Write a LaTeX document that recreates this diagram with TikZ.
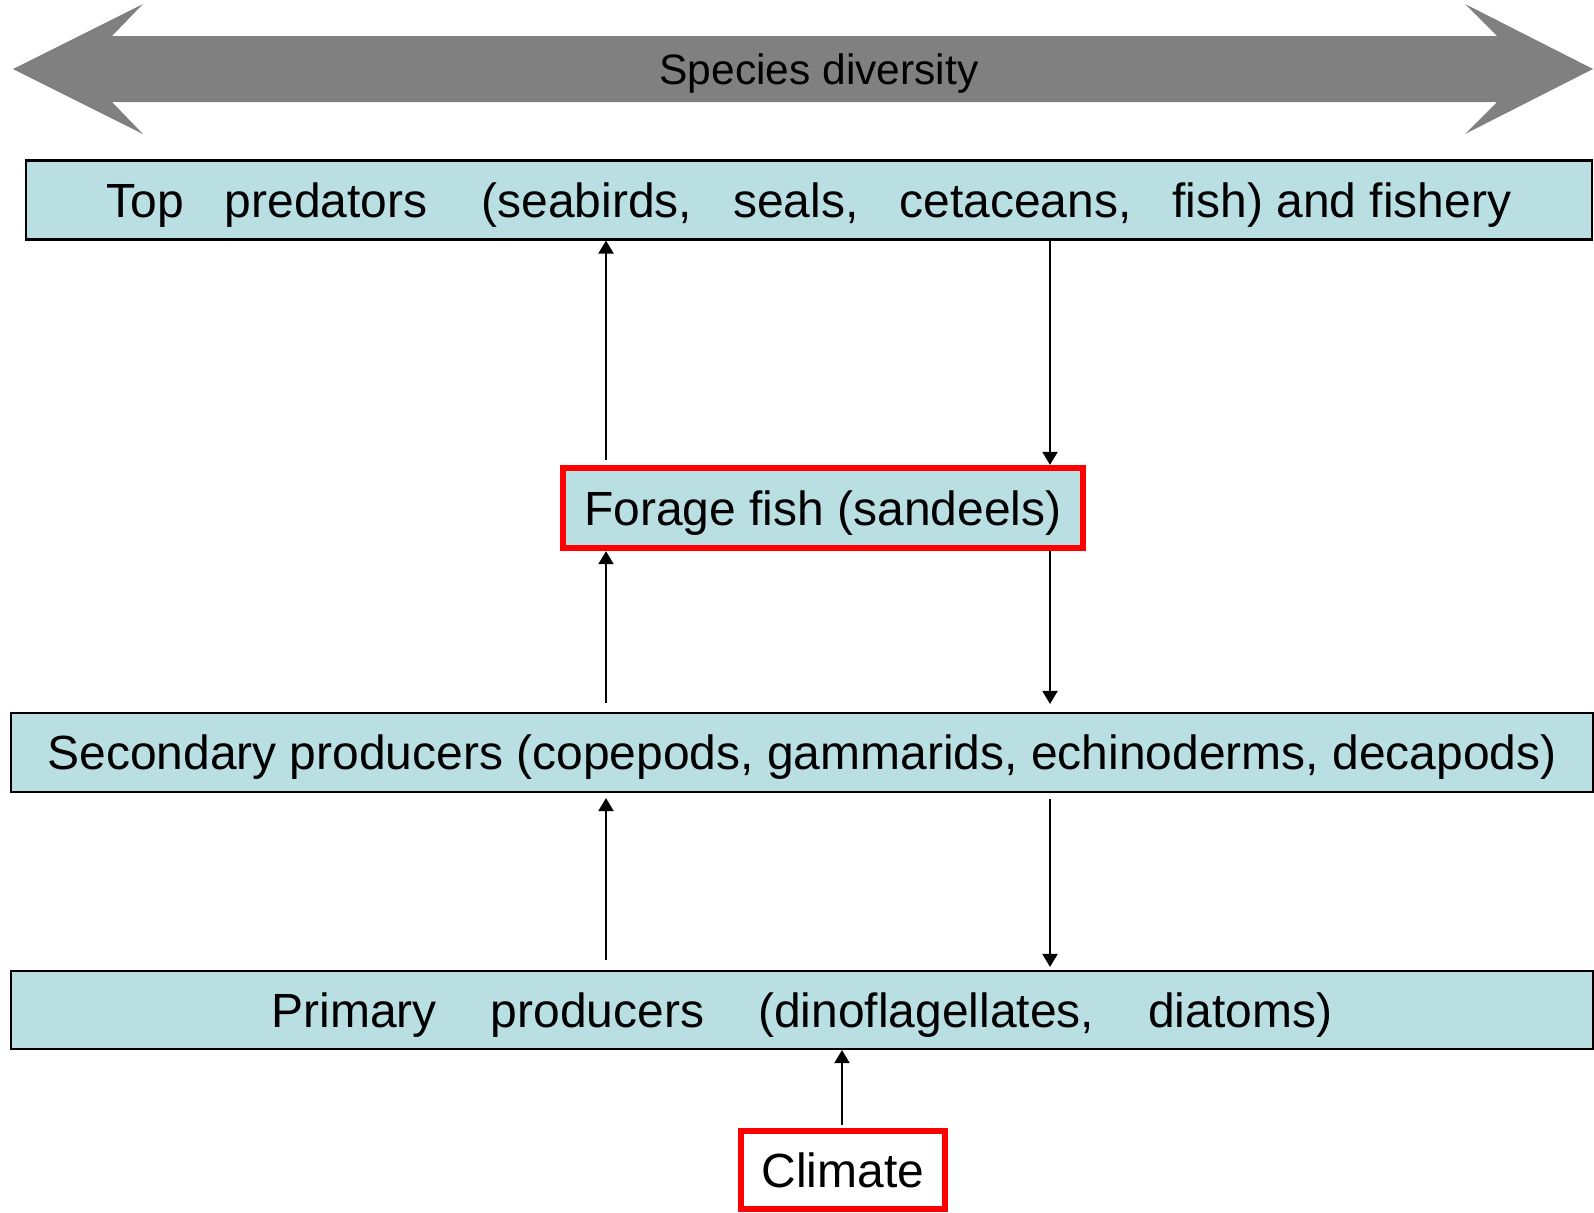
\documentclass[tikz,border=0pt]{standalone}
\usepackage{fontspec}
\setmainfont{Liberation Sans}
\usetikzlibrary{arrows.meta}
\definecolor{boxfill}{RGB}{185,223,227}
\definecolor{bandgray}{RGB}{128,128,128}
\tikzset{
  level/.style = {draw = black, fill = boxfill, line width = 0.6pt, inner sep = 0pt,
    text height = 0.44cm, text depth = 0.10cm,
    font = \fontsize{13.65}{16}\selectfont},
  key/.style = {level, draw = red, line width = 1.8pt},
  link/.style = {line width = 0.6pt, -{Triangle[width = 0.15cm, length = 0.13cm]}},
}
\newcommand{\wsp}{\hspace{0.41cm}}
\newcommand{\wwsp}{\hspace{0.54cm}}
\begin{document}
\begin{tikzpicture}
  \useasboundingbox (0, 0) rectangle (15.94, -12.12);
  % diversity band
  \fill[bandgray] (0.13, -0.69) -- (1.43, -0.04) -- (1.12, -0.36) -- (14.97, -0.36)
    -- (14.65, -0.04) -- (15.93, -0.69) -- (14.65, -1.34) -- (14.97, -1.02)
    -- (1.12, -1.02) -- (1.43, -1.34) -- cycle;
  \node[inner sep = 0pt, text height = 0.38cm, text depth = 0.08cm] (div) at (8.19, -0.69)
    {\fontsize{12.1}{14}\selectfont Species diversity};
  % trophic levels
  \node[level, minimum width = 15.66cm, minimum height = 0.79cm] (top) at (8.09, -2.00)
    {Top\wsp predators\wwsp(seabirds,\wsp seals,\wsp cetaceans,\wsp fish) and fishery};
  \node[key, minimum width = 5.20cm, minimum height = 0.80cm] (forage) at (8.23, -5.08)
    {Forage fish (sandeels)};
  \node[level, minimum width = 15.82cm, minimum height = 0.79cm] (second) at (8.02, -7.525)
    {Secondary producers (copepods, gammarids, echinoderms, decapods)};
  \node[level, minimum width = 15.82cm, minimum height = 0.78cm] (primary) at (8.02, -10.10)
    {Primary\wwsp producers\wwsp(dinoflagellates,\wwsp diatoms)};
  \node[key, fill = white, minimum width = 2.04cm, minimum height = 0.78cm] (climate) at (8.43, -11.70)
    {Climate};
  \coordinate (upx) at (6.06, 0);
  \coordinate (downx) at (10.50, 0);
  \coordinate (climx) at (8.42, 0);
  % bottom-up
  \draw[link, shorten <= 0.05cm] (forage.north -| upx) -- (top.south -| upx);
  \draw[link, shorten <= 0.09cm] (second.north -| upx) -- (forage.south -| upx);
  \draw[link, shorten <= 0.10cm, shorten >= 0.05cm] (primary.north -| upx) -- (second.south -| upx);
  \draw[link, shorten <= 0.03cm] (climate.north -| climx) -- (primary.south -| climx);
  % top-down
  \draw[link] (top.south -| downx) -- (forage.north -| downx);
  \draw[link, shorten >= 0.08cm] (forage.south -| downx) -- (second.north -| downx);
  \draw[link, shorten <= 0.06cm, shorten >= 0.03cm] (second.south -| downx) -- (primary.north -| downx);
\end{tikzpicture}
\end{document}
